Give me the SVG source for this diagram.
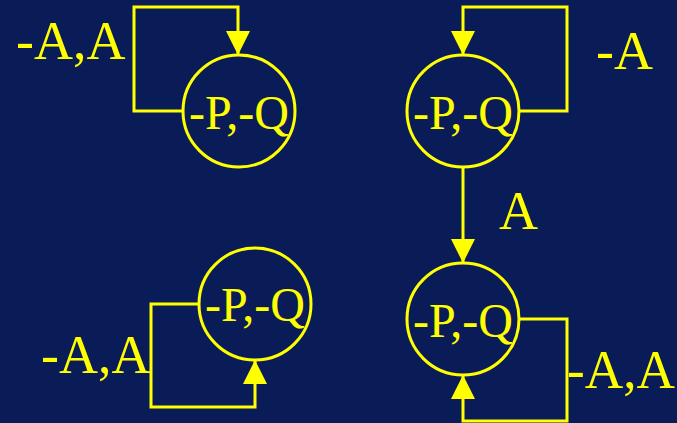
<svg xmlns="http://www.w3.org/2000/svg" width="677" height="423" viewBox="0 0 677 423">
<style>
.bg{fill:#0A1C57}
.c{fill:none;stroke:#FFFF00;stroke-width:3}
.e{fill:none;stroke:#FFFF00;stroke-width:3;marker-end:url(#ah)}
.n{font-family:"Liberation Serif","Times New Roman",serif;font-size:48px;fill:#FFFF00;text-anchor:middle}
.l{font-family:"Liberation Serif","Times New Roman",serif;font-size:54px;fill:#FFFF00}
</style>
<defs>
<marker id="ah" markerUnits="userSpaceOnUse" markerWidth="24" markerHeight="24" viewBox="0 0 22 22" refX="22" refY="11" orient="auto">
<path d="M0,0 L22,11 L0,22 Z" fill="#FFFF00"/>
</marker>
</defs>
<rect class="bg" x="0" y="0" width="677" height="423"/>
<g id="connectors">
<path class="e" d="M183,111 H134 V7 H238 V55"/>
<path class="e" d="M519,111 H567 V7 H463 V55"/>
<path class="e" d="M463,167 V263"/>
<path class="e" d="M199,304 H151 V407 H255 V360"/>
<path class="e" d="M519,319 H567 V421 H463 V375"/>
</g>
<g id="label1"><text class="l" x="16" y="59">-A,A</text></g>
<g id="label2"><text class="l" x="596" y="69">-A</text></g>
<g id="label3"><text class="l" x="499" y="229">A</text></g>
<g id="label4"><text class="l" x="41" y="373">-A,A</text></g>
<g id="label5"><text class="l" x="567" y="388" textLength="108" lengthAdjust="spacingAndGlyphs">-A,A</text></g>
<g id="node1"><circle class="c" cx="239" cy="111" r="56"/><text class="n" x="239" y="129">-P,-Q</text></g>
<g id="node2"><circle class="c" cx="463" cy="111" r="56"/><text class="n" x="463" y="129">-P,-Q</text></g>
<g id="node3"><circle class="c" cx="255" cy="304" r="56"/><text class="n" x="255" y="321">-P,-Q</text></g>
<g id="node4"><circle class="c" cx="463" cy="319" r="56"/><text class="n" x="463" y="337">-P,-Q</text></g>
</svg>
